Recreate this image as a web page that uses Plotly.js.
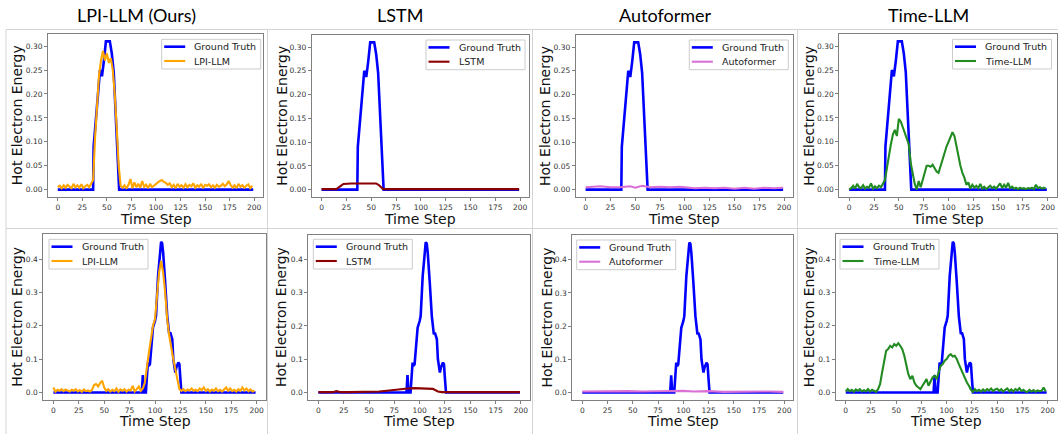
<!DOCTYPE html>
<html>
<head>
<meta charset="utf-8">
<script src="https://cdn.plot.ly/plotly-3.0.1.min.js"></script>
<style>
html,body{margin:0;padding:0;background:#fff;}
#chart{width:1058px;height:434px;}
</style>
</head>
<body>
<div id="chart"></div>
<script>
// ---------------- DATA ----------------
const modelNames = ["LPI-LLM", "LSTM", "Autoformer", "Time-LLM"];
const columnTitles = ["LPI-LLM (Ours)", "LSTM", "Autoformer", "Time-LLM"];
const xTickVals = [0, 25, 50, 75, 100, 125, 150, 175, 200];
const yTickValsTop = [0.00, 0.05, 0.10, 0.15, 0.20, 0.25, 0.30];
const yTickValsBot = [0.0, 0.1, 0.2, 0.3, 0.4];

// time steps for the densely sampled predictions (every 2 steps)
const steps2 = [0,2,4,6,8,10,12,14,16,18,20,22,24,26,28,30,32,34,36,38,
  40,42,44,46,48,50,52,54,56,58,60,62,64,66,68,70,72,74,76,78,
  80,82,84,86,88,90,92,94,96,98,100,102,104,106,108,110,112,114,116,118,
  120,122,124,126,128,130,132,134,136,138,140,142,144,146,148,150,152,154,156,158,
  160,162,164,166,168,170,172,174,176,178,180,182,184,186,188,190,192,194,196,198];

// Ground truth, sample 1 (top row)
const gtTopX = [0, 36, 36.5, 40, 43, 44, 45, 47, 49, 53, 55, 57, 60, 62.5, 199];
const gtTopY = [0, 0, 0.09, 0.17, 0.25, 0.245, 0.237, 0.27, 0.31, 0.31, 0.285, 0.245, 0.12, 0, 0];

// Ground truth, sample 2 (bottom row)
const gtBotX = [0, 87, 88, 89, 90, 91, 93, 94, 95, 97, 98, 100, 101, 103, 105, 106, 107, 108, 110, 112, 114, 115, 117, 118, 120, 121, 123, 124, 125, 126, 199];
const gtBotY = [0, 0, 0.052, 0, 0, 0, 0.09, 0.08, 0.085, 0.15, 0.195, 0.215, 0.23, 0.35, 0.43, 0.452, 0.448, 0.42, 0.33, 0.23, 0.175, 0.18, 0.16, 0.10, 0.06, 0.075, 0.09, 0.085, 0.04, 0, 0];

// LPI-LLM predictions
const lpiTop = [0.005,0.008,0.003,0.009,0.004,0.010,0.006,0.003,0.012,0.005,
  0.009,0.004,0.011,0.003,0.007,0.010,0.005,0.012,0.020,0.110,
  0.190,0.240,0.270,0.290,0.270,0.285,0.265,0.275,0.250,0.200,
  0.130,0.050,0.008,0.004,0.009,0.002,0.010,0.022,0.003,0.015,
  0.005,0.012,0.004,0.018,0.006,0.010,0.003,0.012,0.005,0.009,
  0.011,0.015,0.018,0.020,0.016,0.014,0.010,0.013,0.005,0.010,
  0.003,0.012,0.006,0.009,0.004,0.011,0.005,0.010,0.007,0.013,
  0.004,0.009,0.006,0.012,0.003,0.010,0.008,0.011,0.005,0.009,
  0.004,0.010,0.006,0.008,0.012,0.007,0.011,0.018,0.009,0.004,
  0.009,0.003,0.012,0.006,0.009,0.004,0.008,0.011,0.003,0.008];
const lpiBot = [0.015,0.002,0.008,0.005,0.010,0.004,0.009,0.006,0.003,0.008,
  0.005,0.010,0.003,0.007,0.002,0.009,0.004,0.006,0.003,0.008,
  0.022,0.025,0.018,0.028,0.035,0.015,0.005,0.010,0.003,0.008,
  0.004,0.012,0.002,0.009,0.005,0.010,0.003,0.008,0.006,0.020,
  0.003,0.010,0.018,0.005,0.012,0.030,0.085,0.120,0.160,0.200,
  0.220,0.290,0.360,0.395,0.360,0.300,0.220,0.170,0.130,0.100,
  0.070,0.035,0.010,0.005,0.010,0.004,0.009,0.006,0.012,0.005,
  0.008,0.004,0.012,0.007,0.015,0.005,0.010,0.003,0.009,0.005,
  0.012,0.004,0.008,0.003,0.010,0.015,0.005,0.012,0.004,0.008,
  0.003,0.010,0.005,0.015,0.006,0.012,0.004,0.009,0.003,0.005];

// LSTM predictions
const lstmTopX = [0, 15, 18, 22, 30, 40, 50, 55, 58, 62, 199];
const lstmTopY = [0.001, 0.001, 0.006, 0.012, 0.013, 0.013, 0.014, 0.013, 0.009, 0.001, 0.001];
const lstmBotX = [0, 14, 18, 22, 30, 50, 60, 70, 80, 88, 95, 110, 113, 118, 122, 199];
const lstmBotY = [0.001, 0.001, 0.004, 0.001, 0.001, 0.002, 0.003, 0.006, 0.010, 0.012, 0.013, 0.013, 0.011, 0.003, 0.001, 0.001];

// Autoformer predictions
const autoTopX = [0, 10, 15, 25, 35, 45, 50, 57, 65, 75, 85, 95, 105, 110, 120, 130, 140, 150, 160, 170, 180, 190, 199];
const autoTopY = [0.005, 0.007, 0.007, 0.005, 0.005, 0.007, 0.004, 0.008, 0.005, 0.006, 0.005, 0.006, 0.004, 0.003, 0.004, 0.003, 0.004, 0.002, 0.004, 0.002, 0.004, 0.003, 0.004];
const autoBotX = [0, 15, 30, 45, 60, 75, 90, 100, 110, 125, 140, 155, 170, 185, 199];
const autoBotY = [0.003, 0.004, 0.003, 0.004, 0.003, 0.004, 0.004, 0.005, 0.003, 0.004, 0.002, 0.003, 0.002, 0.003, 0.002];

// Time-LLM predictions
const timeTop = [0.000,0.003,0.008,0.002,0.012,0.005,0.003,0.009,0.002,0.006,
  0.004,0.013,0.002,0.007,0.003,0.008,0.005,0.014,0.020,0.045,
  0.075,0.095,0.115,0.125,0.112,0.148,0.142,0.130,0.120,0.105,
  0.095,0.055,0.030,0.012,0.000,0.018,0.005,0.020,0.035,0.050,
  0.050,0.048,0.052,0.045,0.038,0.035,0.050,0.060,0.075,0.090,
  0.100,0.110,0.120,0.112,0.090,0.070,0.050,0.035,0.025,0.010,
  0.015,0.002,0.010,0.004,0.008,0.003,0.012,0.002,0.006,0.001,
  0.005,0.008,0.003,0.006,0.002,0.007,0.013,0.003,0.010,0.004,
  0.014,0.003,0.006,0.002,0.004,0.001,0.004,0.002,0.003,0.001,
  0.003,0.002,0.004,0.001,0.010,0.003,0.005,0.002,0.004,0.002];
const timeBot = [0.003,0.010,0.004,0.008,0.002,0.009,0.005,0.010,0.003,0.007,
  0.004,0.010,0.003,0.008,0.005,0.002,0.010,0.025,0.060,0.100,
  0.125,0.130,0.140,0.135,0.145,0.140,0.148,0.140,0.130,0.110,
  0.080,0.055,0.040,0.050,0.030,0.020,0.015,0.010,0.020,0.030,
  0.040,0.020,0.035,0.045,0.050,0.040,0.060,0.080,0.085,0.095,
  0.100,0.110,0.115,0.108,0.110,0.100,0.085,0.070,0.060,0.045,
  0.030,0.020,0.008,0.002,0.010,0.004,0.008,0.003,0.009,0.004,
  0.010,0.006,0.012,0.004,0.009,0.011,0.005,0.010,0.003,0.008,
  0.012,0.004,0.009,0.003,0.010,0.006,0.013,0.004,0.008,0.003,
  0.002,0.008,0.003,0.007,0.002,0.006,0.004,0.005,0.015,0.003];

// ---------------- STYLE / LAYOUT ----------------
const W = 1058, H = 434;
const px = v => v / W;
const py = v => 1 - v / H;
const FONT = "DejaVu Sans, sans-serif";
const colors = { gt: "#0000ff", "LPI-LLM": "#ffa500", "LSTM": "#8b0000", "Autoformer": "#da70d6", "Time-LLM": "#228b22" };
const widths = { gt: 2.6, pred: 2.1 };

// pixel boxes of the 8 axes: [left, right, top, bottom]
const boxes = [
  [48, 263, 34, 197], [311.7, 529, 35, 197], [575.7, 793, 35, 197], [839.3, 1056.7, 34, 197],
  [43.3, 265.7, 234.3, 400], [308.3, 530, 234.7, 400], [572.3, 793.3, 235, 400], [835.7, 1056.7, 234.3, 400]
];
// legend boxes (pixel): [left, top]
const legendPos = [
  [161.7, 39.3], [426, 40], [689.3, 40], [952.5, 39.3],
  [49, 239.3], [313.3, 239.3], [576.7, 240], [840, 239.3]
];
const LEG_W = 99, LEG_H = 29.7;
const ylabelX = [16.7, 281.7, 545, 808.3, 16.7, 281.7, 546, 809];

const predsX = {
  top: [steps2, lstmTopX, autoTopX, steps2],
  bot: [steps2, lstmBotX, autoBotX, steps2]
};
const predsY = {
  top: [lpiTop, lstmTopY, autoTopY, timeTop],
  bot: [lpiBot, lstmBotY, autoBotY, timeBot]
};

const traces = [];
const layout = {
  width: W, height: H,
  margin: { l: 0, r: 0, t: 0, b: 0 },
  paper_bgcolor: "#ffffff", plot_bgcolor: "#ffffff",
  showlegend: false,
  font: { family: FONT, color: "#000" },
  annotations: [], shapes: []
};

for (let k = 0; k < 8; k++) {
  const row = k < 4 ? "top" : "bot";
  const col = k % 4;
  const n = k + 1;
  const xa = n === 1 ? "x" : "x" + n;
  const ya = n === 1 ? "y" : "y" + n;
  const b = boxes[k];

  traces.push({
    x: row === "top" ? gtTopX : gtBotX,
    y: row === "top" ? gtTopY : gtBotY,
    type: "scatter", mode: "lines", name: "Ground Truth",
    line: { color: colors.gt, width: widths.gt },
    xaxis: xa, yaxis: ya, hoverinfo: "skip"
  });
  traces.push({
    x: predsX[row][col], y: predsY[row][col],
    type: "scatter", mode: "lines", name: modelNames[col],
    line: { color: colors[modelNames[col]], width: widths.pred },
    xaxis: xa, yaxis: ya, hoverinfo: "skip"
  });

  const yt = row === "top" ? yTickValsTop : yTickValsBot;
  const axCommon = {
    showline: true, mirror: true, linecolor: "#808080", linewidth: 1,
    ticks: "outside", ticklen: 3, tickwidth: 1, tickcolor: "#808080",
    tickfont: { size: 7.5, color: "#333", family: FONT },
    showgrid: false, zeroline: false, fixedrange: true
  };
  layout["xaxis" + (n === 1 ? "" : n)] = Object.assign({}, axCommon, {
    domain: [px(b[0]), px(b[1])], anchor: ya,
    range: [-9.95, 208.95], tickvals: xTickVals, ticktext: xTickVals.map(String)
  });
  layout["yaxis" + (n === 1 ? "" : n)] = Object.assign({}, axCommon, {
    domain: [py(b[3]), py(b[2])], anchor: xa,
    range: row === "top" ? [-0.0155, 0.3255] : [-0.0226, 0.4746],
    tickvals: yt, ticktext: yt.map(v => v.toFixed(row === "top" ? 2 : 1))
  });

  // legend (box, line samples, labels)
  const lp = legendPos[k];
  layout.shapes.push({
    type: "rect", xref: "paper", yref: "paper",
    x0: px(lp[0]), x1: px(lp[0] + LEG_W), y0: py(lp[1] + LEG_H), y1: py(lp[1]),
    line: { color: "#cccccc", width: 1 }, fillcolor: "rgba(255,255,255,0.85)", layer: "above"
  });
  const rows = [["Ground Truth", colors.gt, widths.gt], [modelNames[col], colors[modelNames[col]], widths.pred]];
  rows.forEach((r, i) => {
    const yy = lp[1] + 7.4 + i * 14.3;
    layout.shapes.push({
      type: "line", xref: "paper", yref: "paper",
      x0: px(lp[0] + 2.5), x1: px(lp[0] + 23.5), y0: py(yy), y1: py(yy),
      line: { color: r[1], width: r[2] }, layer: "above"
    });
    layout.annotations.push({
      text: r[0], xref: "paper", yref: "paper",
      x: px(lp[0] + 30.5), y: py(yy), xanchor: "left", yanchor: "middle",
      showarrow: false, font: { size: 9.5, family: FONT, color: "#222" }
    });
  });

  // axis titles
  layout.annotations.push({
    text: "Hot Electron Energy", xref: "paper", yref: "paper",
    x: px(ylabelX[k]), y: py((b[2] + b[3]) / 2), xanchor: "center", yanchor: "middle",
    textangle: -90, showarrow: false, font: { size: 14, family: FONT, color: "#111" }
  });
  layout.annotations.push({
    text: "Time Step", xref: "paper", yref: "paper",
    x: px((b[0] + b[1]) / 2), y: py(row === "top" ? 219 : 420.5), xanchor: "center", yanchor: "middle",
    showarrow: false, font: { size: 14, family: FONT, color: "#111" }
  });
}

// column titles
const titleX = [136.3, 399.7, 665, 929];
for (let c = 0; c < 4; c++) {
  layout.annotations.push({
    text: columnTitles[c], xref: "paper", yref: "paper",
    x: px(titleX[c]), y: py(14.5), xanchor: "center", yanchor: "middle",
    showarrow: false, font: { size: 18, family: "Comic Sans MS, Lato, DejaVu Sans, sans-serif", color: "#000" }
  });
}

// light frames around each sub-figure
const frameLines = [
  [6, 29.5, 1058, 29.5], [6, 228.5, 1058, 228.5],
  [6, 29.5, 6, 434], [267.5, 29.5, 267.5, 434], [532.5, 29.5, 532.5, 434], [797.5, 29.5, 797.5, 434]
];
frameLines.forEach(f => layout.shapes.push({
  type: "line", xref: "paper", yref: "paper",
  x0: px(f[0]), y0: py(f[1]), x1: px(f[2]), y1: py(f[3]),
  line: { color: "#d4d4d4", width: 1 }, layer: "below"
}));

Plotly.newPlot("chart", traces, layout, { staticPlot: true, displayModeBar: false });
</script>
</body>
</html>
